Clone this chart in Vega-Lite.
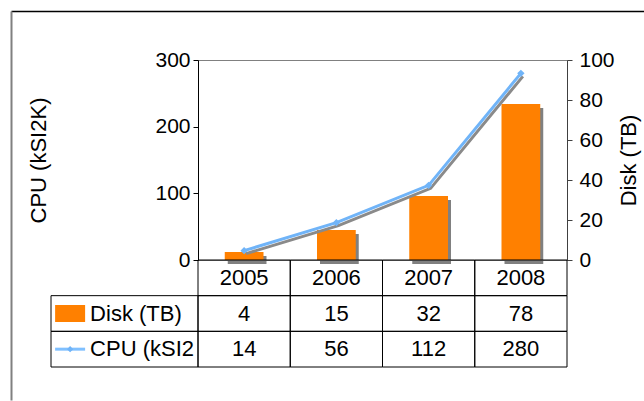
{
  "$schema": "https://vega.github.io/schema/vega-lite/v6.json",
  "padding": {"left": 8, "top": 11, "right": 0, "bottom": 0},
  "background": "white",
  "columns": 2,
  "spacing": 0,
  "bounds": "flush",
  "align": "each",
  "config": {
    "font": "Liberation Sans",
    "view": {"stroke": null},
    "axis": {
      "labelFont": "Liberation Sans",
      "titleFont": "Liberation Sans",
      "labelFontSize": 21,
      "titleFontSize": 22,
      "titleFontWeight": "normal",
      "labelColor": "#000",
      "titleColor": "#000",
      "grid": false
    }
  },
  "datasets": {
    "main": [
      {"year": "2005", "disk": 4, "cpu": 14},
      {"year": "2006", "disk": 15, "cpu": 56},
      {"year": "2007", "disk": 32, "cpu": 112},
      {"year": "2008", "disk": 78, "cpu": 280}
    ],
    "legend": [
      {"row": "disk", "label": "Disk (TB)"},
      {"row": "cpu", "label": "CPU (kSI2"}
    ]
  },
  "concat": [
    {
      "width": 147,
      "height": 200,
      "data": {"values": [{}]},
      "mark": {"type": "point", "opacity": 0},
      "encoding": {
        "x": {"datum": 0, "type": "quantitative", "scale": {"domain": [0, 1], "range": [-40, 595]}, "axis": {"orient": "top", "offset": 49, "ticks": false, "labels": false, "title": null, "domainColor": "#000", "domainWidth": 1.5}},
        "y": {"datum": 0, "type": "quantitative", "scale": {"domain": [0, 1], "range": [340, -49]}, "axis": {"orient": "left", "offset": 40, "ticks": false, "labels": false, "title": null, "domainColor": "#808080", "domainWidth": 2}}
      }
    },
    {
      "width": 369,
      "height": 200,
      "view": {"stroke": "#808080"},
      "data": {"name": "main"},
      "encoding": {
        "x": {"field": "year", "type": "nominal", "scale": {"paddingInner": 0, "paddingOuter": 0}, "axis": null}
      },
      "layer": [
        {
          "encoding": {
            "y": {
              "field": "disk", "type": "quantitative",
              "scale": {"domain": [0, 100]},
              "axis": {"orient": "right", "values": [0, 20, 40, 60, 80, 100], "title": "Disk (TB)", "titleAngle": -90, "titleBaseline": "top", "titlePadding": 4, "tickSize": 5, "labelPadding": 7, "domainColor": "#404040", "tickColor": "#404040"}
            }
          },
          "layer": [
            {"mark": {"type": "bar", "color": "#808080", "width": {"band": 0.42}, "xOffset": 3, "yOffset": 4}},
            {"mark": {"type": "bar", "color": "#FF8000", "width": {"band": 0.42}}}
          ]
        },
        {
          "encoding": {
            "y": {
              "field": "cpu", "type": "quantitative",
              "scale": {"domain": [0, 300]},
              "axis": {"orient": "left", "values": [0, 100, 200, 300], "title": "CPU (kSI2K)", "titlePadding": 104, "tickSize": 5, "labelPadding": 3, "domainColor": "#000", "tickColor": "#000"}
            }
          },
          "layer": [
            {"mark": {"type": "line", "color": "#8a8a8a", "strokeWidth": 3, "xOffset": 2, "yOffset": 3}},
            {"mark": {"type": "line", "color": "#70B4F8", "strokeWidth": 3}},
            {"mark": {"type": "point", "shape": "diamond", "filled": true, "color": "#70B4F8", "size": 55, "opacity": 1}}
          ]
        }
      ],
      "resolve": {"scale": {"y": "independent"}}
    },
    {
      "width": 147,
      "height": 107,
      "data": {"name": "legend"},
      "encoding": {
        "y": {"field": "row", "type": "nominal", "scale": {"domain": ["yr", "disk", "cpu"], "paddingInner": 0, "paddingOuter": 0}, "axis": null},
        "x": {"datum": "symbol", "type": "nominal", "scale": {"type": "point", "align": 0.13}, "axis": null}
      },
      "layer": [
        {"mark": {"type": "rect", "fill": null, "stroke": "#000", "strokeWidth": 1}, "encoding": {"x": {"value": 0}, "x2": {"value": "width"}}},
        {"transform": [{"filter": "datum.row === 'disk'"}], "mark": {"type": "tick", "orient": "horizontal", "size": 30, "thickness": 17, "color": "#FF8000", "opacity": 1}},
        {"transform": [{"filter": "datum.row === 'cpu'"}], "mark": {"type": "tick", "orient": "horizontal", "size": 30, "thickness": 3, "color": "#80C0FF", "opacity": 1}},
        {"transform": [{"filter": "datum.row === 'cpu'"}], "mark": {"type": "point", "shape": "diamond", "filled": true, "size": 40, "color": "#70B4F8", "opacity": 1}},
        {"mark": {"type": "text", "align": "left", "baseline": "middle", "dx": 20, "fontSize": 22, "color": "#000"}, "encoding": {"text": {"field": "label"}}}
      ]
    },
    {
      "width": 369,
      "height": 107,
      "data": {"name": "main"},
      "encoding": {
        "x": {"field": "year", "type": "nominal", "scale": {"paddingInner": 0, "paddingOuter": 0}, "axis": null}
      },
      "layer": [
        {
          "transform": [{"fold": ["disk", "cpu"], "as": ["row", "value"]}],
          "encoding": {
            "y": {"field": "row", "type": "nominal", "scale": {"domain": ["yr", "disk", "cpu"], "paddingInner": 0, "paddingOuter": 0}, "axis": null}
          },
          "layer": [
            {"mark": {"type": "rect", "fill": null, "stroke": "#000", "strokeWidth": 1}},
            {"mark": {"type": "text", "fontSize": 22, "color": "#000"}, "encoding": {"text": {"field": "value", "type": "quantitative"}}}
          ]
        },
        {
          "encoding": {
            "y": {"datum": "yr", "type": "nominal", "scale": {"domain": ["yr", "disk", "cpu"], "paddingInner": 0, "paddingOuter": 0}, "axis": null}
          },
          "layer": [
            {"mark": {"type": "rect", "fill": null, "stroke": "#000", "strokeWidth": 1}},
            {"mark": {"type": "text", "fontSize": 22, "color": "#000"}, "encoding": {"text": {"field": "year", "type": "nominal"}}}
          ]
        }
      ]
    }
  ]
}
